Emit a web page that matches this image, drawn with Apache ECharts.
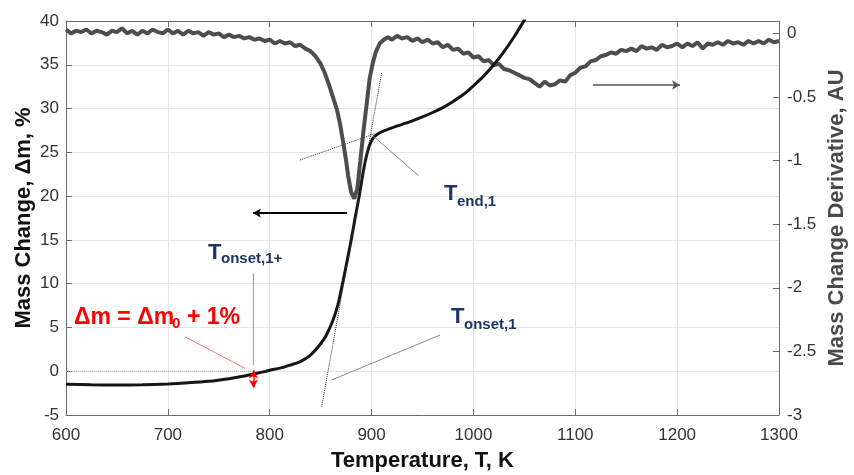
<!DOCTYPE html>
<html>
<head>
<meta charset="utf-8">
<script src="https://cdn.jsdelivr.net/npm/echarts@6/dist/echarts.min.js"></script>
<style>
html,body{margin:0;padding:0;background:#fff;}
#chart{width:854px;height:475px;}
</style>
</head>
<body>
<div id="chart"></div>
<script>
// ---- Data ----
const massT = [600,625,650,675,700,720,740,760,775,785,795,800,810,820,830,840,849,855,862,867,872,876,880,884,888,892,895,898,902,906,912,920,930,940,950,960,970,980,990,1000,1010,1020,1030,1040,1050,1060];
const massVal = [-1.50,-1.55,-1.58,-1.55,-1.46,-1.33,-1.15,-0.85,-0.55,-0.30,-0.05,0.12,0.35,0.70,1.10,1.85,3.00,4.00,5.80,7.60,10.30,12.60,15.00,17.60,20.10,22.90,24.60,25.80,26.70,27.10,27.45,27.80,28.20,28.60,29.05,29.55,30.10,30.80,31.60,32.60,33.70,35.00,36.50,38.20,40.10,42.10];

const derivT = [600,605,610,615,620,625,630,635,640,645,650,655,660,665,670,675,680,685,690,695,700,705,710,715,720,725,730,735,740,745,750,755,760,765,770,775,780,785,790,795,800,805,810,815,820,825,830,835,840,845,850,854,858,862,866,869,872,875,877,880,883,886,889,892,895,898,901,904,908,912,916,920,925,930,935,940,945,950,955,960,965,970,975,980,985,990,995,1000,1005,1010,1015,1020,1025,1030,1035,1040,1045,1050,1055,1060,1065,1070,1075,1080,1085,1090,1095,1100,1105,1110,1115,1120,1125,1130,1135,1140,1145,1150,1155,1160,1165,1170,1175,1180,1185,1190,1195,1200,1205,1210,1215,1220,1225,1230,1235,1240,1245,1250,1255,1260,1265,1270,1275,1280,1285,1290,1295,1300];
const derivVal = [0.03,0.00,0.02,0.01,0.03,0.00,0.02,0.01,-0.01,0.02,0.01,0.04,0.00,0.02,-0.01,0.02,0.00,0.03,0.01,0.00,0.03,0.00,0.02,-0.01,0.02,0.00,0.01,-0.02,0.01,-0.01,0.00,-0.03,-0.01,-0.03,-0.02,-0.04,-0.03,-0.05,-0.04,-0.06,-0.05,-0.08,-0.06,-0.08,-0.07,-0.10,-0.09,-0.12,-0.14,-0.18,-0.24,-0.31,-0.40,-0.50,-0.60,-0.71,-0.85,-1.00,-1.12,-1.25,-1.30,-1.22,-1.00,-0.77,-0.57,-0.36,-0.24,-0.15,-0.08,-0.05,-0.03,-0.05,-0.02,-0.04,-0.03,-0.06,-0.04,-0.07,-0.05,-0.08,-0.07,-0.11,-0.09,-0.13,-0.12,-0.16,-0.15,-0.19,-0.18,-0.22,-0.21,-0.25,-0.24,-0.28,-0.29,-0.31,-0.33,-0.35,-0.36,-0.39,-0.42,-0.38,-0.41,-0.40,-0.37,-0.38,-0.33,-0.31,-0.27,-0.26,-0.22,-0.21,-0.18,-0.17,-0.15,-0.16,-0.13,-0.14,-0.12,-0.14,-0.10,-0.12,-0.11,-0.13,-0.09,-0.11,-0.10,-0.08,-0.11,-0.08,-0.10,-0.07,-0.12,-0.08,-0.09,-0.07,-0.09,-0.06,-0.08,-0.07,-0.09,-0.06,-0.08,-0.06,-0.08,-0.05,-0.07,-0.06];

// Annotation geometry (data coordinates)
const steepTangent = [[851.0,-4.05],[909.9,34.09]];
const plateauTangent = [[829.7,24.12],[903.4,27.14]];
const endLeader = [[901.7,26.85],[945.9,22.36]];
const onsetLeader = [[860.8,-1.0],[967.2,4.13]];
const onsetPlusLine = [[784,11.2],[784,0.71]];
const redLeader = [[716.8,3.94],[775.7,0.33]];
const zeroLine = [[600,0],[788,0]];
const leftArrow = [[876,18.06],[783.5,18.06]];
const rightArrow = [[1117.4,32.69],[1202.8,32.69]];
const redDoubleArrow = [[784,-1.9],[784,0.1]];

const FONT = 'Liberation Sans, Arial, Helvetica, sans-serif';
const NAVY = '#1f3566';

function zip(a,b){return a.map((v,i)=>[v,b[i]]);}
function txt(x, baseline, text, size, color){
  return {type:'text', x:x, y:baseline - 0.31*size, z:100,
    style:{text:text, fontSize:size, fontWeight:'bold', fontFamily:FONT, fill:color, align:'left', verticalAlign:'middle'}};
}
function seg(data, color, type, width){
  return {type:'line', xAxisIndex:0, yAxisIndex:0, data:data, showSymbol:false, symbol:'none', silent:true,
    lineStyle:{color:color, type:type, width:width}, z:5, animation:false};
}
function arrowItem(pts, color, width, both){
  return [
    {coord:pts[0], symbol: both ? 'arrow' : 'none', symbolSize:[7,8], lineStyle:{color:color, width:width, type:'solid'}},
    {coord:pts[1], symbol:'arrow', symbolSize:[7,8]}
  ];
}
const plain = v => String(v);

const chart = echarts.init(document.getElementById('chart'), null, {renderer:'canvas'});
const axisCol = '#6b6b6b';
chart.setOption({
  animation:false,
  backgroundColor:'#fff',
  textStyle:{fontFamily:FONT},
  grid:{left:66, right:75, top:21, bottom:60, containLabel:false, outerBoundsMode:'none'},
  xAxis:[{
    type:'value', min:600, max:1300, interval:100, position:'bottom',
    axisLine:{show:true, onZero:false, lineStyle:{color:axisCol, width:1}},
    axisTick:{show:true, inside:true, length:6, lineStyle:{color:axisCol}},
    axisLabel:{color:'#333', fontSize:17, fontFamily:FONT, margin:12, formatter:plain},
    splitLine:{show:true, lineStyle:{color:'#e4e4e4', width:1}},
    name:'Temperature, T, K', nameLocation:'middle', nameGap:35, nameMoveOverlap:false,
    nameTextStyle:{color:'#111', fontSize:22, fontWeight:'bold', fontFamily:FONT}
  },{
    type:'value', min:600, max:1300, interval:100, position:'top',
    axisLine:{show:true, onZero:false, lineStyle:{color:axisCol, width:1}},
    axisTick:{show:true, inside:true, length:6, lineStyle:{color:axisCol}},
    axisLabel:{show:false}, splitLine:{show:false}
  }],
  yAxis:[{
    type:'value', min:-5, max:40, interval:5, position:'left',
    axisLine:{show:true, onZero:false, lineStyle:{color:axisCol, width:1}},
    axisTick:{show:true, inside:true, length:6, lineStyle:{color:axisCol}},
    axisLabel:{color:'#333', fontSize:17, fontFamily:FONT, margin:7, formatter:plain},
    splitLine:{show:true, lineStyle:{color:'#e4e4e4', width:1}},
    name:'Mass Change, \u0394m, %', nameLocation:'middle', nameGap:31, nameMoveOverlap:false,
    nameTextStyle:{color:'#111', fontSize:22, fontWeight:'bold', fontFamily:FONT}
  },{
    type:'value', min:-3, max:0.097, interval:0.5, position:'right',
    axisLine:{show:true, onZero:false, lineStyle:{color:axisCol, width:1}},
    axisTick:{show:true, inside:true, length:6, lineStyle:{color:axisCol}},
    axisLabel:{color:'#333', fontSize:17, fontFamily:FONT, margin:8, showMaxLabel:false, formatter:plain},
    splitLine:{show:false},
    name:'Mass Change Derivative, AU', nameLocation:'middle', nameGap:47, nameMoveOverlap:false,
    nameTextStyle:{color:'#4a4a4a', fontSize:22, fontWeight:'bold', fontFamily:FONT}
  }],
  series:[
    {type:'line', name:'deriv', xAxisIndex:0, yAxisIndex:1, data:zip(derivT, derivVal),
     showSymbol:false, symbol:'none', lineStyle:{color:'#4d4d4d', width:4}, z:3},
    {type:'line', name:'mass', xAxisIndex:0, yAxisIndex:0, data:zip(massT, massVal),
     showSymbol:false, symbol:'none', smooth:0.25, lineStyle:{color:'#151515', width:3}, z:4,
     markLine:{silent:true, animation:false, label:{show:false}, emphasis:{disabled:true},
       data:[
         arrowItem(leftArrow, '#000', 1.8, false),
         arrowItem(rightArrow, '#555', 1.5, false),
         arrowItem(redDoubleArrow, '#ff0000', 1.5, true)
       ]}},
    seg(steepTangent, '#333', 'dotted', 1),
    seg(plateauTangent, '#333', 'dotted', 1),
    seg(endLeader, '#8a8a8a', 'solid', 1),
    seg(onsetLeader, '#7f8aa0', 'solid', 1),
    seg(onsetPlusLine, '#9098a4', 'solid', 1),
    seg(redLeader, '#ff7070', 'solid', 1),
    seg(zeroLine, '#b0b0b0', 'dotted', 1)
  ],
  graphic:[
    txt(444, 201, 'T', 22, NAVY), txt(457, 207, 'end,1', 15, NAVY),
    txt(451, 324, 'T', 22, NAVY), txt(464, 329.5, 'onset,1', 15, NAVY),
    txt(208, 260, 'T', 22, NAVY), txt(221, 264, 'onset,1+', 15, NAVY),
    txt(74, 324.3, '\u0394m = \u0394m', 23, '#ff0000'), txt(172, 329, '0', 15, '#ff0000'),
    txt(187, 324.3, '+ 1%', 23, '#ff0000')
  ]
});
</script>
</body>
</html>
